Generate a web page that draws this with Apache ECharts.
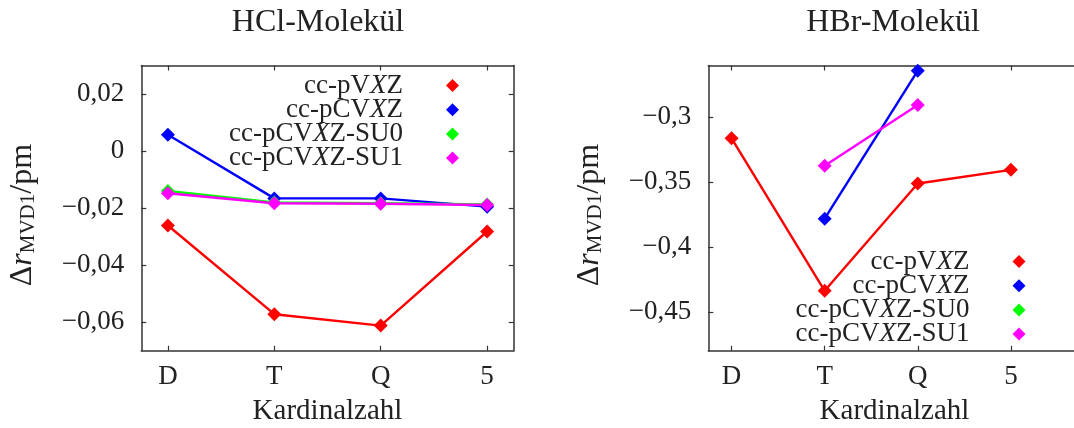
<!DOCTYPE html>
<html>
<head>
<meta charset="utf-8">
<script src="https://cdn.jsdelivr.net/npm/echarts@6/dist/echarts.min.js"></script>
<style>
  html, body { margin: 0; padding: 0; background: #fff; }
  #chart { width: 1074px; height: 428px; }
</style>
</head>
<body>
<div id="chart"></div>
<script>
// Basis-set cardinal numbers on the x axis
const categories = ['D', 'T', 'Q', '5'];
const seriesNames = ['cc-pVXZ', 'cc-pCVXZ', 'cc-pCVXZ-SU0', 'cc-pCVXZ-SU1'];
const seriesColors = ['#ff0000', '#0000ff', '#00ff00', '#ff00ff'];

// HCl: MVD1 correction to the bond length (pm)
const hclPVXZ  = [-0.0261, -0.0572, -0.0612, -0.0282];
const hclPCVXZ = [ 0.0057, -0.0166, -0.0166, -0.0195];
const hclSU0   = [-0.0140, -0.0180, -0.0183, -0.0187];
const hclSU1   = [-0.0148, -0.0183, -0.0185, -0.0189];
const hclYTicks = [0.02, 0, -0.02, -0.04, -0.06];

// HBr: MVD1 correction to the bond length (pm)
const hbrPVXZ  = [-0.3162, -0.4338, -0.3510, -0.3405];
const hbrPCVXZ = [null, -0.3782, -0.2640, null];
const hbrSU0   = [null, null, null, null];
const hbrSU1   = [null, -0.3374, -0.2905, null];
const hbrYTicks = [-0.3, -0.35, -0.4, -0.45];

const xTicks = [1, 2, 3, 4];
const FONT = 'Liberation Serif';
const INK = '#222';

function decimalLabel(v) {
  if (Math.abs(v) < 1e-9) return '0';
  return String(Number(v.toFixed(4))).replace('-', '\u2212').replace('.', ',');
}

function toPoints(values) {
  return values.map((v, i) => [i + 1, v]).filter(p => p[1] != null);
}

// basis-set names with an italic X
function richName(name) {
  const parts = name.split('X');
  return '{t|' + parts[0] + '}{i|X}{t|' + parts[1] + '}{g| }';
}

const frameLine = { show: true, onZero: false, lineStyle: { color: '#333', width: 1.5 } };
const tickLine = { color: '#333', width: 1.2 };

function xAxes(gridIndex, max) {
  const base = {
    type: 'value', gridIndex, min: 0.75, max,
    axisLine: frameLine,
    splitLine: { show: false },
    axisTick: { show: true, inside: true, length: 5, customValues: xTicks, lineStyle: tickLine }
  };
  return [
    Object.assign({}, base, {
      position: 'bottom',
      axisLabel: {
        customValues: xTicks, formatter: v => categories[Math.round(v) - 1],
        margin: 13, fontFamily: FONT, fontSize: 27, color: INK
      },
      name: 'Kardinalzahl', nameLocation: 'middle', nameGap: 46,
      nameTextStyle: { fontFamily: FONT, fontSize: 29, color: INK }
    }),
    Object.assign({}, base, { position: 'top', axisLabel: { show: false } })
  ];
}

function yAxes(gridIndex, min, max, ticks) {
  const base = {
    type: 'value', gridIndex, min, max,
    axisLine: frameLine,
    splitLine: { show: false },
    axisTick: { show: true, inside: true, length: 5, customValues: ticks, lineStyle: tickLine }
  };
  return [
    Object.assign({}, base, {
      position: 'left',
      axisLabel: {
        customValues: ticks, formatter: decimalLabel,
        margin: 17, fontFamily: FONT, fontSize: 27, color: INK
      },
      name: '{a|\u0394}{i|r}{s|MVD1}{a|/pm}',
      nameLocation: 'middle', nameGap: 102, nameRotate: 90,
      nameTextStyle: {
        padding: [0, 14, 0, 0],
        rich: {
          a: { fontFamily: FONT, fontSize: 32, color: INK },
          i: { fontFamily: FONT, fontSize: 32, fontStyle: 'italic', color: INK },
          s: { fontFamily: FONT, fontSize: 21, color: INK, padding: [13, 0, 0, 0] }
        }
      }
    }),
    Object.assign({}, base, { position: 'right', axisLabel: { show: false } })
  ];
}

function lineSeries(name, color, values, axisIndex) {
  return {
    type: 'line', name,
    xAxisIndex: axisIndex, yAxisIndex: axisIndex,
    data: toPoints(values),
    symbol: 'diamond', symbolSize: 14,
    lineStyle: { color, width: 2.4 },
    itemStyle: { color },
    emphasis: { disabled: true }
  };
}

function legend(right, top) {
  return {
    data: seriesNames,
    orient: 'vertical', align: 'right',
    right, top, padding: 0, itemGap: -2.8,
    icon: 'diamond', itemWidth: 13, itemHeight: 13,
    selectedMode: false,
    formatter: richName,
    textStyle: {
      rich: {
        t: { fontFamily: FONT, fontSize: 27, color: INK, lineHeight: 24 },
        i: { fontFamily: FONT, fontSize: 27, fontStyle: 'italic', color: INK, lineHeight: 24 },
        g: { width: 38, lineHeight: 24 }
      }
    }
  };
}

const hclSets = [hclPVXZ, hclPCVXZ, hclSU0, hclSU1];
const hbrSets = [hbrPVXZ, hbrPCVXZ, hbrSU0, hbrSU1];

const option = {
  animation: false,
  backgroundColor: '#fff',
  title: [
    { text: 'HCl-Molekül', left: 313, top: 2, textAlign: 'center',
      textStyle: { fontFamily: FONT, fontSize: 32, fontWeight: 'normal', color: INK } },
    { text: 'HBr-Molekül', left: 888, top: 2, textAlign: 'center',
      textStyle: { fontFamily: FONT, fontSize: 32, fontWeight: 'normal', color: INK } }
  ],
  // fixed plot frames; the right frame runs past the canvas edge
  grid: [
    { left: 141.3, top: 65.5, width: 372.4, height: 285.2, outerBoundsMode: 'none' },
    { left: 708.3, top: 65.5, width: 372.4, height: 285.2, outerBoundsMode: 'none' }
  ],
  xAxis: xAxes(0, 4.25).concat(xAxes(1, 4.75)),
  yAxis: yAxes(0, -0.07, 0.03, hclYTicks).concat(yAxes(1, -0.48, -0.26, hbrYTicks)),
  legend: [legend(615, 72), legend(48.5, 248)],
  series: []
};

// bottom/left axes carry the data; indices 0 and 2 belong to the two panels
hclSets.forEach((vals, k) => option.series.push(lineSeries(seriesNames[k], seriesColors[k], vals, 0)));
hbrSets.forEach((vals, k) => option.series.push(lineSeries(seriesNames[k], seriesColors[k], vals, 2)));

const chart = echarts.init(document.getElementById('chart'), null, { renderer: 'canvas' });
chart.setOption(option);
</script>
</body>
</html>
